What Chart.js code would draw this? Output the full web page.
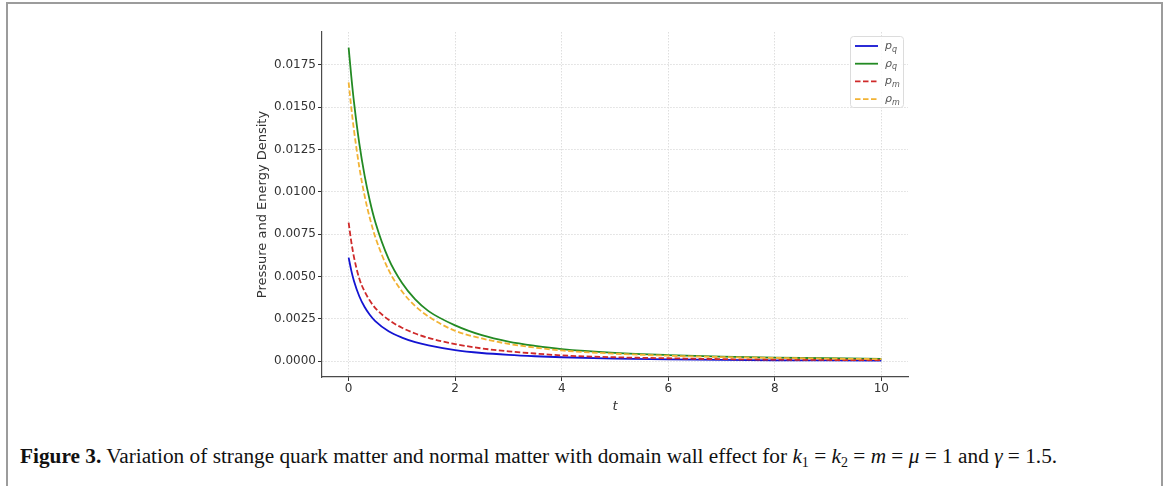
<!DOCTYPE html>
<html lang="en">

<head>
    <meta charset="UTF-8">
    <meta name="viewport" content="width=device-width, initial-scale=1.0">
    <script src="https://cdn.jsdelivr.net/npm/chart.js@4.4.0/dist/chart.umd.min.js"></script>
    <title>Figure 3</title>
    <style>
        html, body { margin: 0; padding: 0; background: #fff; }
        body { width: 1170px; height: 486px; position: relative; overflow: hidden; }
        #frame {
            position: absolute; left: 6px; top: 2px; width: 1153px; height: 520px;
            border: 2px solid #9c9c9c; border-bottom: none;
        }
        #myChart { position: absolute; left: 0; top: 0; }
        #caption {
            position: absolute; left: 20px; top: 444px; white-space: nowrap;
            font-family: "Liberation Serif", serif; font-size: 21.3px; color: #111;
        }
        #caption b { font-weight: bold; }
        #caption i { font-style: italic; }
        #caption sub { font-size: 14px; vertical-align: -4px; line-height: 0; }
    </style>
</head>

<body>
    <div id="frame"></div>
    <canvas id="myChart" width="1170" height="425"></canvas>
    <div id="caption"><b>Figure 3.</b> Variation of strange quark matter and normal matter with domain wall effect for
        <i>k</i><sub>1</sub> = <i>k</i><sub>2</sub> = <i>m</i> = <i>μ</i> = 1 and <i>γ</i> = 1.5.</div>

    <script>
        // values
        const tValues = [0, 0.05, 0.1, 0.2, 0.3, 0.4, 0.5, 0.75, 1, 1.25, 1.5, 2, 2.5, 3, 3.5, 4, 5, 6, 7, 8, 9, 10]
        const pQuark = [0.00612, 0.00535, 0.00474, 0.00384, 0.00320, 0.00273, 0.00237, 0.00177, 0.00140, 0.00113, 0.00094,
            0.00066, 0.00049, 0.00038, 0.00030, 0.00024, 0.00016, 0.00011, 0.00008, 0.00006, 0.00005, 0.00004]
        const rhoQuark = [0.01850, 0.01680, 0.01530, 0.01285, 0.01095, 0.00944, 0.00822, 0.00604, 0.00463, 0.00365, 0.00296,
            0.00212, 0.00154, 0.00116, 0.00091, 0.00072, 0.00050, 0.00037, 0.00028, 0.00022, 0.00018, 0.00015]
        const pMatter = [0.00818, 0.00705, 0.00615, 0.00488, 0.00412, 0.00357, 0.00314, 0.00245, 0.00198, 0.00164, 0.00138,
            0.00102, 0.00076, 0.00059, 0.00046, 0.00035, 0.00024, 0.00018, 0.00013, 0.00010, 0.00008, 0.00007]
        const rhoMatter = [0.01645, 0.01495, 0.01364, 0.01146, 0.00976, 0.00842, 0.00733, 0.00539, 0.00413, 0.00326, 0.00264,
            0.00180, 0.00135, 0.00103, 0.00081, 0.00064, 0.00045, 0.00033, 0.00025, 0.00020, 0.00016, 0.00013]

        const xTicks = [0, 2, 4, 6, 8, 10]
        const yTicks = [0, 0.0025, 0.005, 0.0075, 0.01, 0.0125, 0.015, 0.0175]

        const series = [
            { sym: 'p', sub: 'q', data: pQuark, color: '#1414d2', dash: [], order: 3 },
            { sym: 'ρ', sub: 'q', data: rhoQuark, color: '#238a23', dash: [], order: 2 },
            { sym: 'p', sub: 'm', data: pMatter, color: '#cf2a2a', dash: [5.5, 2.5], order: 1 },
            { sym: 'ρ', sub: 'm', data: rhoMatter, color: '#f2b334', dash: [5.5, 2.5], order: 0 },
        ]

        const tickFont = { family: 'DejaVu Sans', size: 12 }

        // matplotlib-like legend box in the upper right corner
        const boxLegend = {
            id: 'boxLegend',
            afterDatasetsDraw(chart) {
                const ctx = chart.ctx
                const area = chart.chartArea
                const w = 53, h = 71
                const x = area.right - w - 5
                const y = area.top + 4
                ctx.save()
                ctx.fillStyle = 'rgba(255,255,255,0.85)'
                ctx.strokeStyle = '#dcdcdc'
                ctx.lineWidth = 1
                ctx.beginPath()
                ctx.roundRect(x + 0.5, y + 0.5, w, h, 3)
                ctx.fill()
                ctx.stroke()
                series.forEach((s, i) => {
                    const cy = y + 10 + i * 17.7
                    ctx.strokeStyle = s.color
                    ctx.lineWidth = 1.8
                    ctx.setLineDash(s.dash)
                    ctx.beginPath()
                    ctx.moveTo(x + 5, cy)
                    ctx.lineTo(x + 28, cy)
                    ctx.stroke()
                    ctx.setLineDash([])
                    ctx.fillStyle = '#555'
                    ctx.textBaseline = 'alphabetic'
                    ctx.font = 'italic 11px "DejaVu Sans"'
                    ctx.fillText(s.sym, x + 35, cy + 3)
                    const sw = ctx.measureText(s.sym).width
                    ctx.font = 'italic 8px "DejaVu Sans"'
                    ctx.fillText(s.sub, x + 35 + sw, cy + 5.5)
                })
                ctx.restore()
            }
        }

        const ctx = document.getElementById('myChart').getContext('2d')

        const myChart = new Chart(ctx, {
            type: 'line',
            data: {
                datasets: series.map(s => ({
                    label: s.sym + '_' + s.sub,
                    data: tValues.map((t, i) => ({ x: t, y: s.data[i] })),
                    borderColor: s.color,
                    borderWidth: 1.8,
                    borderDash: s.dash,
                    pointRadius: 0,
                    cubicInterpolationMode: 'monotone',
                    fill: false,
                    order: s.order,
                }))
            },
            options: {
                responsive: false,
                animation: false,
                events: [],
                layout: { padding: { left: 240, top: 32, right: 262, bottom: 8 } },
                plugins: {
                    legend: { display: false },
                    tooltip: { enabled: false },
                },
                scales: {
                    x: {
                        type: 'linear',
                        min: -0.5,
                        max: 10.5,
                        afterBuildTicks: (scale) => { scale.ticks = xTicks.map(v => ({ value: v })) },
                        afterFit: (scale) => { scale.height = 40 },
                        ticks: { font: tickFont, color: '#333', padding: 1, maxRotation: 0 },
                        grid: { color: '#dedede', lineWidth: 1, tickColor: '#333', tickLength: 4, tickWidth: 1 },
                        border: { color: '#4a4a4a', width: 1.2, dash: [1.5, 1.5] },
                        title: {
                            display: true, text: 't', color: '#333',
                            font: { family: 'DejaVu Sans', size: 13, style: 'italic' },
                            padding: { top: 0, bottom: 3 }
                        }
                    },
                    y: {
                        type: 'linear',
                        min: -0.000925,
                        max: 0.019425,
                        afterBuildTicks: (scale) => { scale.ticks = yTicks.map(v => ({ value: v })) },
                        afterFit: (scale) => { scale.width = 82 },
                        ticks: { font: tickFont, color: '#333', padding: 2, callback: (v) => v.toFixed(4) },
                        grid: { color: '#dedede', lineWidth: 1, tickColor: '#333', tickLength: 4, tickWidth: 1 },
                        border: { color: '#4a4a4a', width: 1.2, dash: [1.5, 1.5] },
                        title: {
                            display: true, text: 'Pressure and Energy Density', color: '#333',
                            font: { family: 'DejaVu Sans', size: 13 },
                            padding: { top: 15, bottom: 2 }
                        }
                    }
                }
            },
            plugins: [boxLegend]
        });
    </script>
</body>

</html>
